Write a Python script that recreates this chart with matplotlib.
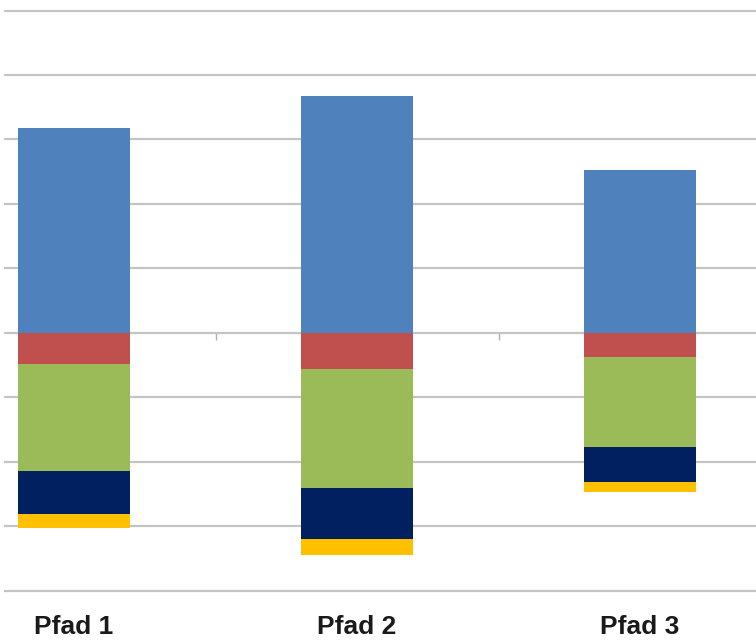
import numpy as np
import matplotlib.pyplot as plt

# data (one grid step = 1 unit)
categories = ["Pfad 1", "Pfad 2", "Pfad 3"]
blue = [3.18, 3.67, 2.53]
red = [-0.48, -0.57, -0.37]
green = [-1.66, -1.84, -1.41]
navy = [-0.67, -0.79, -0.53]
yellow = [-0.22, -0.25, -0.16]

series = [red, green, navy, yellow]
colors = ["#C0504D", "#9BBB59", "#002060", "#FFC000"]

fig = plt.figure(figsize=(7.56, 6.4), dpi=100)
# axes runs past the right edge of the picture (cropped chart)
ymin, ymax = -4.0, 5.0
ax = fig.add_axes([5 / 756, 49.5 / 640, 776.5 / 756, 580 / 640])
x = np.arange(len(categories))

ax.bar(x, blue, width=0.395, color="#4F81BD", zorder=3)
bottom = np.zeros(len(categories))
for vals, c in zip(series, colors):
    ax.bar(x, vals, width=0.395, bottom=bottom, color=c, zorder=3)
    bottom = bottom + np.array(vals)

ax.set_xlim(-0.244, 2.5)
ax.set_ylim(ymin, ymax)
ax.set_yticks(np.arange(-4, 6, 1))
ax.yaxis.grid(True, color="#c4c4c4", lw=1.6, zorder=0)
ax.tick_params(left=False, labelleft=False, bottom=False, labelbottom=False)
for s in ax.spines.values():
    s.set_visible(False)
for gl in ax.get_ygridlines():
    gl.set_clip_on(False)

# category tick marks on the zero line
zero_axis = ax.secondary_xaxis((0 - ymin) / (ymax - ymin))
zero_axis.set_xticks(x[:-1] + 0.5)
zero_axis.tick_params(length=5, width=1, color="#b0b0b0", labelbottom=False)
zero_axis.spines["bottom"].set_visible(False)

for xi, name in zip(x, categories):
    ax.text(xi, -0.063, name, transform=ax.get_xaxis_transform(),
            ha="center", va="center", fontsize=19, fontweight="bold",
            family=["Liberation Sans Narrow", "Liberation Sans", "DejaVu Sans"],
            color="#1a1a1a")

plt.savefig("out.png", dpi=100)
